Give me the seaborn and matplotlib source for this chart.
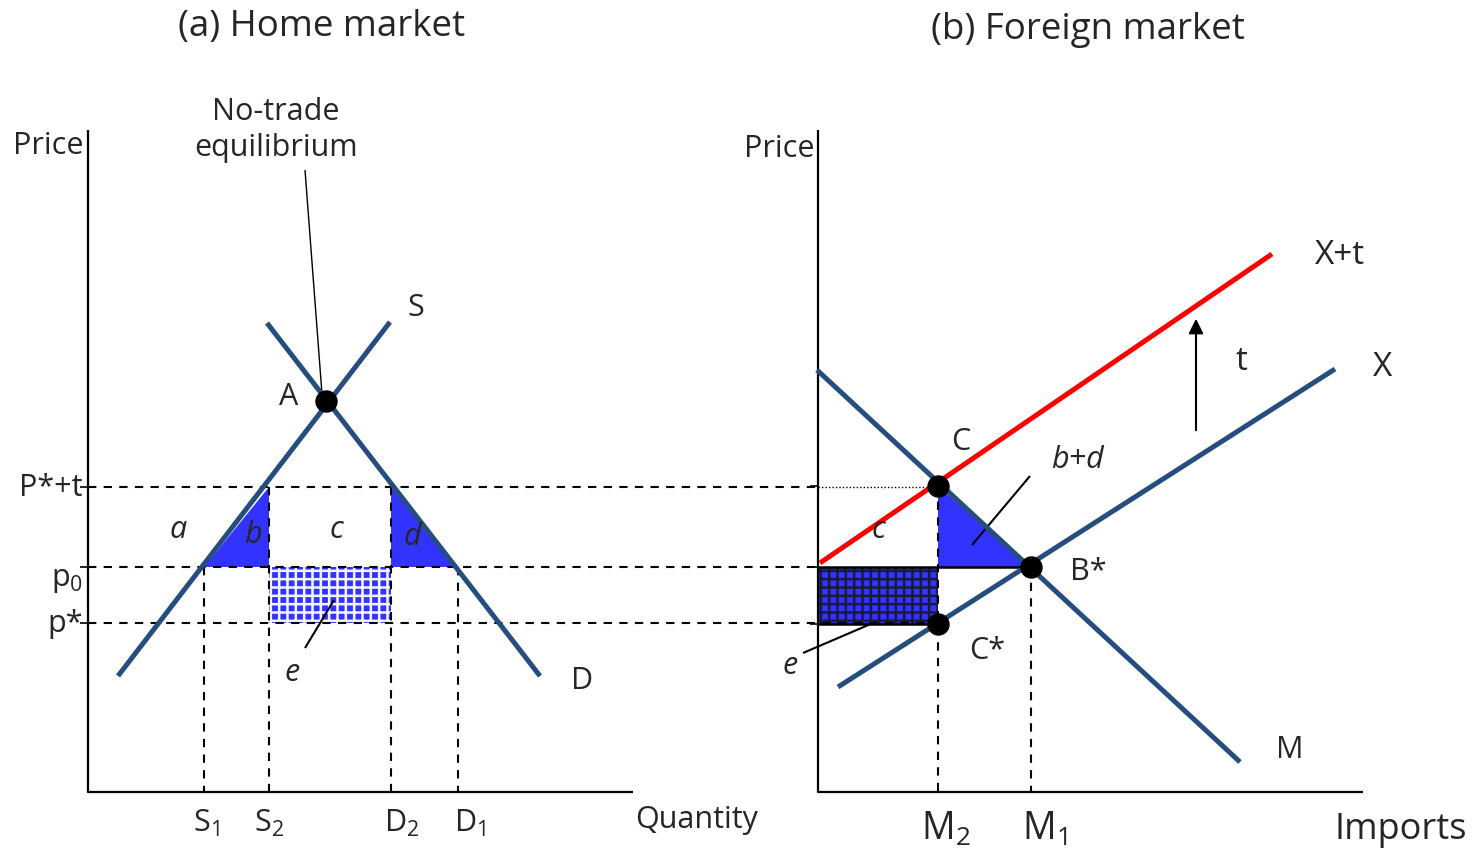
"""
Tariff diagram: (a) Home market, (b) Foreign market
Coordinates are read off the reference picture (pixel space, y pointing down).
"""

import matplotlib
matplotlib.use("Agg")
import matplotlib.pyplot as plt
from matplotlib.patches import Polygon, Rectangle
import pandas as pd
import seaborn as sns

# ── Style ──────────────────────────────────────────────────────────────────
sns.set_theme(style="white")
plt.rcParams["font.family"] = ["Open Sans", "DejaVu Sans"]
plt.rcParams["mathtext.fontset"] = "custom"
plt.rcParams["mathtext.rm"] = "Open Sans"
plt.rcParams["mathtext.it"] = "Open Sans:italic"
plt.rcParams["mathtext.default"] = "rm"
plt.rcParams["hatch.linewidth"] = 1.8

NAVY = "#254E7E"
FILL = "#3333FF"
RED = "#FF0000"

# ── Data (pixel positions) ─────────────────────────────────────────────────
# panel (a)
home_axis_x, home_axis_top, base_y, home_axis_right = 88, 130, 792, 633
supply_x = [118, 390]
supply_y = [676, 322]
demand_x = [267, 540]
demand_y = [323, 676]
eq_A = (326, 401)
p_t, p_0, p_star = 487, 567, 623          # P*+t, p0, p*
q_S1, q_S2, q_D2, q_D1 = 204, 269, 391, 458
tri_b_x = [204, 269, 269]
tri_b_y = [567, 487, 567]
tri_d_x = [391, 391, 456]
tri_d_y = [487, 567, 567]

# panel (b)
for_axis_x, for_axis_top, for_axis_right = 818, 130, 1363
m_x = [817, 1240]
m_y = [370, 762]
x_x = [838, 1335]
x_y = [687, 369]
xt_x = [820, 1272]
xt_y = [563, 254]
pt_C = (938, 486)
pt_B = (1031, 567)
pt_Cs = (938, 624)
tri_bd_x = [938, 938, 1031]
tri_bd_y = [486, 567, 567]
arrow_x, arrow_y0, arrow_y1 = 1196, 433, 316

fig = plt.figure(figsize=(14.72, 8.52), dpi=100)
ax = fig.add_axes([0, 0, 1, 1])
ax.set_xlim(0, 1472)
ax.set_ylim(852, 0)
ax.axis("off")


def seg(xs, ys, color="black", lw=1.5, ls="-", z=2):
    df = pd.DataFrame({"x": xs, "y": ys})
    sns.lineplot(data=df, x="x", y="y", sort=False, estimator=None,
                 color=color, lw=lw, ls=ls, ax=ax, zorder=z,
                 solid_capstyle="butt")


DASH = (0, (4, 3.5))

# ── Shaded areas ───────────────────────────────────────────────────────────
for xs, ys in [(tri_b_x, tri_b_y), (tri_d_x, tri_d_y), (tri_bd_x, tri_bd_y)]:
    ax.add_patch(Polygon(list(zip(xs, ys)), closed=True, fc=FILL, ec="none", zorder=1))
ax.add_patch(Rectangle((q_S2, p_0), q_D2 - q_S2, p_star - p_0, fc=FILL,
                       ec="#f4f4ff", lw=0, hatch="++", zorder=1))
ax.add_patch(Rectangle((for_axis_x, pt_B[1]), pt_C[0] - for_axis_x, pt_Cs[1] - pt_B[1],
                       fc=FILL, ec="#1a1a3a", lw=0, hatch="++", zorder=1))

# ── Axes ───────────────────────────────────────────────────────────────────
seg([home_axis_x, home_axis_x, home_axis_right], [home_axis_top, base_y, base_y], lw=1.6)
seg([for_axis_x, for_axis_x, for_axis_right], [for_axis_top, base_y, base_y], lw=1.6)
for y in [p_t, p_0, p_star]:
    seg([home_axis_x - 8, home_axis_x], [y, y], lw=1.2)
for y in [pt_C[1], pt_B[1], pt_Cs[1]]:
    seg([for_axis_x - 8, for_axis_x], [y, y], lw=1.2)

# ── Guide lines ────────────────────────────────────────────────────────────
seg([home_axis_x, for_axis_x], [p_t, p_t], ls=DASH)
seg([for_axis_x, pt_C[0]], [p_t, p_t], lw=1.0, ls=(0, (1, 1.5)))
seg([home_axis_x, for_axis_x], [p_0, p_0], ls=DASH)
seg([for_axis_x, pt_B[0]], [p_0, p_0], lw=1.8)
seg([home_axis_x, pt_Cs[0]], [p_star, p_star], ls=DASH)
seg([for_axis_x, pt_Cs[0]], [p_star + 1, p_star + 1], lw=1.8)
seg([q_S1, q_S1], [p_0, base_y], ls=DASH)
seg([q_S2, q_S2], [p_t, base_y], ls=DASH)
seg([q_D2, q_D2], [p_t, base_y], ls=DASH)
seg([q_D1, q_D1], [p_0, base_y], ls=DASH)
seg([pt_C[0], pt_C[0]], [pt_C[1], base_y], ls=DASH)
seg([pt_B[0], pt_B[0]], [pt_B[1], base_y], ls=DASH)

# ── Curves ─────────────────────────────────────────────────────────────────
seg(supply_x, supply_y, color=NAVY, lw=3.6, z=3)
seg(demand_x, demand_y, color=NAVY, lw=3.6, z=3)
seg(m_x, m_y, color=NAVY, lw=3.6, z=3)
seg(x_x, x_y, color=NAVY, lw=3.6, z=3)
seg(xt_x, xt_y, color=RED, lw=3.6, z=3)

pts = pd.DataFrame({"x": [eq_A[0], pt_C[0], pt_B[0], pt_Cs[0]],
                    "y": [eq_A[1], pt_C[1], pt_B[1], pt_Cs[1]]})
sns.scatterplot(data=pts, x="x", y="y", s=260, color="black", ax=ax,
                zorder=5, linewidth=0)

# pointer lines
seg([305, 322], [170, 394], lw=1.0)
seg([305, 334], [648, 600], lw=1.5)
seg([1030, 972], [476, 545], lw=1.5)
seg([803, 873], [653, 623], lw=1.5)
ax.annotate("", xy=(arrow_x, arrow_y1), xytext=(arrow_x, arrow_y0),
            arrowprops=dict(arrowstyle="-|>", color="black", lw=1.5,
                            mutation_scale=22), zorder=4)

# ── Text ───────────────────────────────────────────────────────────────────
FS = 22
def txt(x, y, s, ha="center", size=FS, style="normal", **kw):
    ax.text(x, y, s, ha=ha, va="center", fontsize=size, style=style, zorder=6, **kw)

txt(322, 27, "(a) Home market", size=26.5)
txt(1088, 30, "(b) Foreign market", size=26.5)
txt(276, 130, "No-trade\nequilibrium", linespacing=1.25)
txt(48, 146, "Price")
txt(779, 149, "Price")
txt(697, 820, "Quantity")
txt(1401, 830, "Imports", size=26)
txt(83, 488, "P*+t", ha="right")
txt(83, 580, "p$_0$", ha="right")
txt(83, 624, "p*", ha="right")
txt(289, 397, "A")
txt(416, 308, "S")
txt(582, 681, "D")
txt(178, 530, "a", style="italic")
txt(253, 535, "b", style="italic")
txt(336, 530, "c", style="italic")
txt(412, 537, "d", style="italic")
txt(292, 673, "e", style="italic")
txt(206, 823, "S$_1$")
txt(269, 823, "S$_2$")
txt(402, 823, "D$_2$")
txt(470, 823, "D$_1$")
txt(961, 442, "C")
txt(1078, 460, "b+d", style="italic")
txt(878, 530, "c", style="italic")
txt(1088, 572, "B*")
txt(987, 651, "C*")
txt(790, 666, "e", style="italic")
txt(1340, 255, "X+t", size=24)
txt(1383, 368, "X", size=24)
txt(1241, 362, "t", size=24)
txt(1290, 750, "M")
txt(946, 830, "M$_2$", size=27)
txt(1045, 830, "M$_1$", size=27)

fig.savefig("out.png", dpi=100)
